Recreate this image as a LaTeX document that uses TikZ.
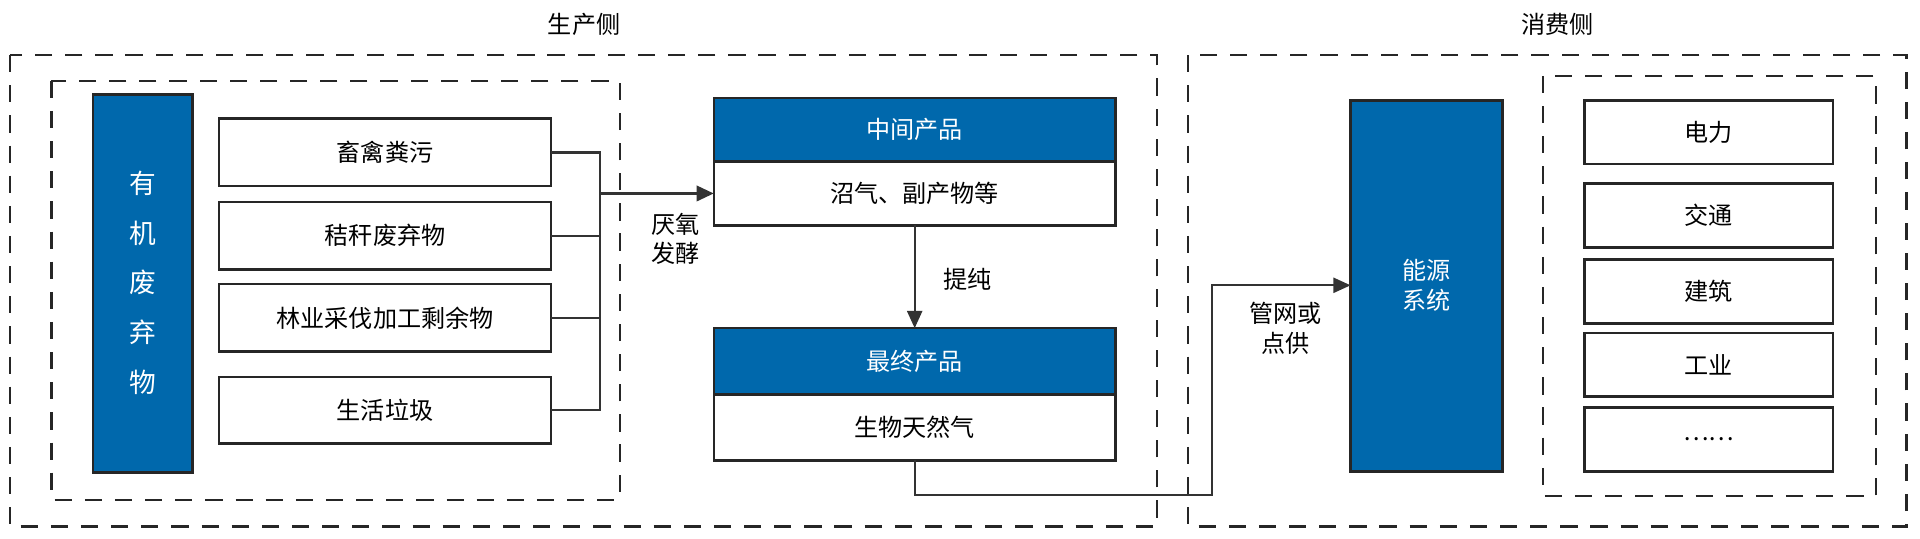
\documentclass[tikz,border=0pt]{standalone}
\usepackage{fontspec}
\setmainfont{Noto Sans CJK SC}
\usetikzlibrary{arrows.meta}
\definecolor{sysblue}{HTML}{0068AC}
\tikzset{
  frame/.style={draw=black!85, dashed, dash pattern=on 4pt off 3pt, line width=0.5pt},
  box/.style={draw=black!85, fill=white, line width=0.6pt},
  bluebox/.style={draw=black!85, fill=sysblue, line width=0.6pt},
  lab/.style={font=\fontsize{5.6}{6.8}\selectfont, align=center},
  wlab/.style={lab, text=white},
  link/.style={draw=black!80, line width=0.5pt},
  arr/.style={link, -{Triangle[length=4pt,width=3.5pt]}}
}
\begin{document}
\begin{tikzpicture}[x=0.01cm, y=-0.01cm]
    \useasboundingbox (0,0) rectangle (1568,440);
    % Frames
    \draw[frame] (8,45) rectangle (945,430);
    \draw[frame] (970,45) rectangle (1557,430);
    \draw[frame] (42,66) rectangle (506,408);
    \draw[frame] (1260,62) rectangle (1532,405);
    \node[lab] (prod) at (477,20) {生产侧};
    \node[lab] (cons) at (1272,20) {消费侧};
    % Organic waste
    \draw[bluebox] (76,77) rectangle (157,386);
    \node[wlab, font=\fontsize{6.2}{11.5}\selectfont] (waste) at (116.5,231) {有\\机\\废\\弃\\物};
    \draw[box] (179,97) rectangle (450,152);
    \node[lab] (s1) at (314.5,124.5) {畜禽粪污};
    \draw[box] (179,165) rectangle (450,220);
    \node[lab] (s2) at (314.5,192.5) {秸秆废弃物};
    \draw[box] (179,232) rectangle (450,287);
    \node[lab] (s3) at (314.5,259.5) {林业采伐加工剩余物};
    \draw[box] (179,308) rectangle (450,362);
    \node[lab] (s4) at (314.5,335) {生活垃圾};
    \coordinate (b1) at (450,124.5);
    \coordinate (b2) at (450,192.5);
    \coordinate (b3) at (450,259.5);
    \coordinate (b4) at (450,335);
    \coordinate (bus) at (490,158);
    \draw[link] (b1) -| (490,335) -- (b4);
    \draw[link] (b2) -- (490,192.5);
    \draw[link] (b3) -- (490,259.5);
    % Products
    \draw[bluebox] (583,80) rectangle (911,132);
    \node[wlab] (mid) at (747,106) {中间产品};
    \draw[box] (583,132) rectangle (911,184);
    \node[lab] (midtxt) at (747,158) {沼气、副产物等};
    \draw[bluebox] (583,268) rectangle (911,322);
    \node[wlab] (fin) at (747,295) {最终产品};
    \draw[box] (583,322) rectangle (911,376);
    \node[lab] (fintxt) at (747,349) {生物天然气};
    \coordinate (midin) at (583,158);
    \coordinate (midout) at (747,184);
    \coordinate (finin) at (747,268);
    \coordinate (finout) at (747,376);
    \draw[arr, line width=0.8pt] (bus) -- (midin);
    \node[lab] (ferm) at (552,195) {厌氧\\发酵};
    \draw[arr] (midout) -- (finin);
    \node[lab] (pur) at (790,228) {提纯};
    % Energy system
    \draw[bluebox] (1103,82) rectangle (1227,385);
    \node[wlab] (sys) at (1165,233) {能源\\系统};
    \coordinate (sysin) at (1103,233);
    \draw[arr] (finout) |- (990,404) |- (sysin);
    \node[lab] (grid) at (1050,268) {管网或\\点供};
    % Uses
    \draw[box] (1294,82) rectangle (1497,134);
    \node[lab] (u1) at (1395.5,108) {电力};
    \draw[box] (1294,150) rectangle (1497,202);
    \node[lab] (u2) at (1395.5,176) {交通};
    \draw[box] (1294,212) rectangle (1497,264);
    \node[lab] (u3) at (1395.5,238) {建筑};
    \draw[box] (1294,272) rectangle (1497,324);
    \node[lab] (u4) at (1395.5,298) {工业};
    \draw[box] (1294,333) rectangle (1497,385);
    \node[lab] (u5) at (1395.5,359) {……};
\end{tikzpicture}
\end{document}
